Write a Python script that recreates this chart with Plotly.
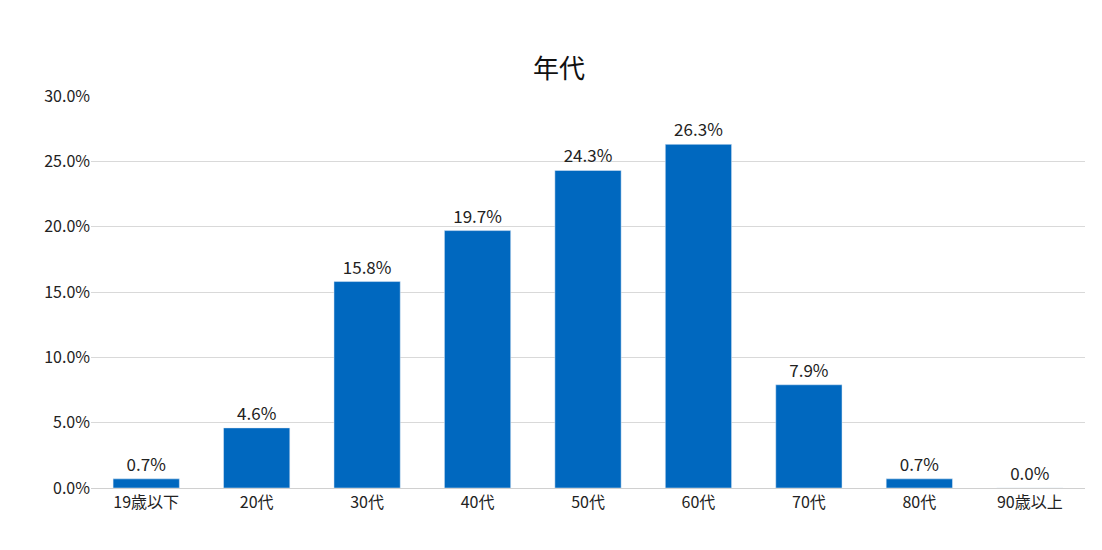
import plotly.graph_objects as go

categories = ["19歳以下", "20代", "30代", "40代", "50代", "60代", "70代", "80代", "90歳以上"]
values = [0.7, 4.6, 15.8, 19.7, 24.3, 26.3, 7.9, 0.7, 0.0]
tick_vals = [0, 5, 10, 15, 20, 25, 30]
tick_text = [f"{v:.1f}%" for v in tick_vals]

font = "Noto Sans CJK JP"

fig = go.Figure(go.Bar(
    x=categories,
    y=values,
    marker_color="#0068bf",
    width=0.6,
    text=[f"{v:.1f}%" for v in values],
    textposition="outside",
    textfont=dict(size=17, color="#222"),
    cliponaxis=False,
))

fig.update_layout(
    title=dict(text="年代", x=0.5, y=0.905, xanchor="center", font=dict(size=26, color="#111")),
    font=dict(family=font, size=16, color="#222"),
    width=1102, height=550,
    margin=dict(l=83, r=25, t=88, b=70),
    plot_bgcolor="white", paper_bgcolor="white",
    showlegend=False,
    xaxis=dict(showline=True, linecolor="#d0d0d0", tickfont=dict(size=16)),
    yaxis=dict(range=[0, 30], tickvals=tick_vals, ticktext=tick_text,
               gridcolor="#d9d9d9", zeroline=False, tickfont=dict(size=16), ticks=""),
)

fig.write_html("out.html")
